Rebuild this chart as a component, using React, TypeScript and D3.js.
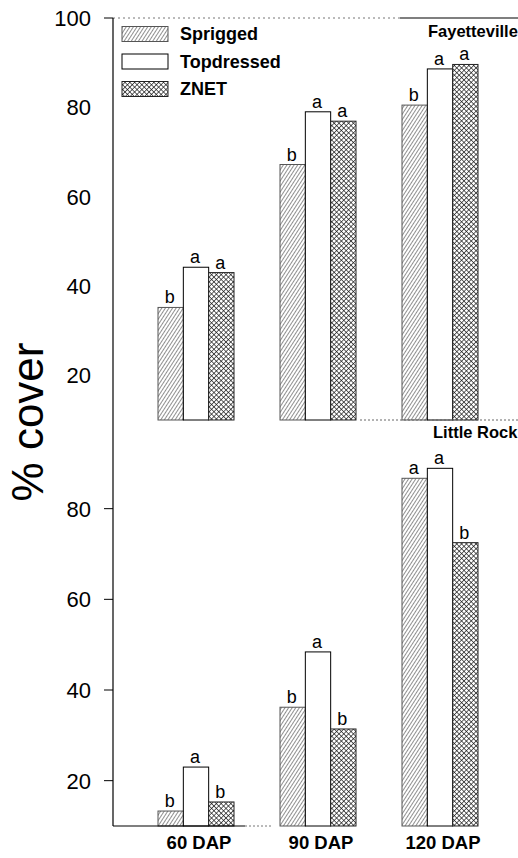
import React from "react";
import * as d3 from "d3";

const groups = ["60 DAP", "90 DAP", "120 DAP"];
const treatments = ["Sprigged", "Topdressed", "ZNET"];
const yTicks = [20, 40, 60, 80];

// Fayetteville (top panel)
const fayetteSprigged = [35.2, 67.2, 80.5];
const fayetteTopdressed = [44.2, 79.0, 88.6];
const fayetteZnet = [43.0, 76.9, 89.6];
const fayetteLetters = [
  ["b", "a", "a"],
  ["b", "a", "a"],
  ["b", "a", "a"],
];

// Little Rock (bottom panel)
const rockSprigged = [13.3, 36.2, 86.7];
const rockTopdressed = [23.0, 48.4, 88.9];
const rockZnet = [15.3, 31.4, 72.5];
const rockLetters = [
  ["b", "a", "b"],
  ["b", "a", "b"],
  ["a", "a", "b"],
];

const W = 518;
const H = 858;
const axisX = 113;
const font = "'Liberation Sans', Arial, Helvetica, sans-serif";

const fills: Record<string, string> = {
  Sprigged: "url(#hatch)",
  Topdressed: "#fff",
  ZNET: "url(#cross)",
};
const strokes: Record<string, string> = {
  Sprigged: "#555",
  Topdressed: "#000",
  ZNET: "#222",
};

type Panel = {
  name: string;
  sprigged: number[];
  topdressed: number[];
  znet: number[];
  letters: string[][];
  range: [number, number];
  showTop: boolean;
};

const panels: Panel[] = [
  { name: "Fayetteville", sprigged: fayetteSprigged, topdressed: fayetteTopdressed, znet: fayetteZnet, letters: fayetteLetters, range: [420, 18], showTop: true },
  { name: "Little Rock", sprigged: rockSprigged, topdressed: rockTopdressed, znet: rockZnet, letters: rockLetters, range: [826, 418], showTop: false },
];

const xGroup = d3.scalePoint<string>().domain(groups).range([196, 440]);
const xInner = d3.scaleBand<string>().domain(treatments).range([-38, 38]).padding(0);

export default function App() {
  return (
    <svg
      width={W}
      height={H}
      style={{ position: "absolute", left: 0, top: 0, display: "block", background: "#fff" }}
      fontFamily={font}
    >
      <defs>
        <pattern id="hatch" patternUnits="userSpaceOnUse" width="3" height="3" patternTransform="rotate(33)">
          <rect width="3" height="3" fill="#fff" />
          <line x1="0" y1="0" x2="0" y2="3" stroke="#222" strokeWidth="1" />
        </pattern>
        <pattern id="cross" patternUnits="userSpaceOnUse" width="3.4" height="3.4" patternTransform="rotate(45)">
          <rect width="3.4" height="3.4" fill="#fff" />
          <line x1="0" y1="0" x2="0" y2="3.4" stroke="#111" strokeWidth="1.3" />
          <line x1="0" y1="0" x2="3.4" y2="0" stroke="#111" strokeWidth="1.3" />
        </pattern>
      </defs>

      {panels.map((p, pi) => {
        const y = d3.scaleLinear().domain([10, 100]).range(p.range);
        const series: Record<string, number[]> = {
          Sprigged: p.sprigged,
          Topdressed: p.topdressed,
          ZNET: p.znet,
        };
        return (
          <g key={p.name}>
            {/* ticks */}
            {(p.showTop ? [...yTicks, 100] : yTicks).map((t) => (
              <g key={t} transform={`translate(0,${y(t)})`}>
                {(!p.showTop || t === 100) && (
                  <line x1={axisX - 9} x2={axisX} stroke="#000" strokeWidth={1} />
                )}
                <text x={91} dy="0.36em" textAnchor="end" fontSize={22}>
                  {t}
                </text>
              </g>
            ))}
            {/* bars */}
            {groups.map((g, gi) =>
              treatments.map((t, ti) => {
                const v = series[t][gi];
                const x0 = (xGroup(g) as number) + (xInner(t) as number);
                const bw = xInner.bandwidth();
                return (
                  <g key={g + t}>
                    <rect
                      x={x0}
                      y={y(v)}
                      width={bw}
                      height={y(10) - y(v)}
                      fill={fills[t]}
                      stroke={strokes[t]}
                      strokeWidth={1}
                    />
                    <text
                      x={x0 + bw / 2 - 1}
                      y={y(v) - 4}
                      textAnchor="middle"
                      fontSize={18}
                    >
                      {p.letters[gi][ti]}
                    </text>
                  </g>
                );
              })
            )}
            <text
              x={pi === 0 ? 428 : 433}
              y={pi === 0 ? 37 : 438}
              fontSize={16.5}
              fontWeight="bold"
            >
              {p.name}
            </text>
          </g>
        );
      })}

      {/* frame lines */}
      <line x1={axisX} x2={400} y1={18} y2={18} stroke="#777" strokeWidth={1} strokeDasharray="2,3" />
      <line x1={400} x2={518} y1={18} y2={18} stroke="#000" strokeWidth={1.2} />
      <line x1={360} x2={518} y1={420} y2={420} stroke="#666" strokeWidth={1} strokeDasharray="2,2" />
      <line x1={axisX} x2={axisX} y1={18} y2={826} stroke="#000" strokeWidth={1.2} />
      <line x1={axisX} x2={245} y1={826} y2={826} stroke="#000" strokeWidth={1.2} />
      <line x1={245} x2={272} y1={826} y2={826} stroke="#777" strokeWidth={1} strokeDasharray="2,2" />

      {/* x labels */}
      {groups.map((g) => (
        <text key={g} x={(xGroup(g) as number) + 3} y={849} textAnchor="middle" fontSize={18.5} fontWeight="bold">
          {g}
        </text>
      ))}

      {/* y title */}
      <text
        transform="translate(43,422) rotate(-90)"
        textAnchor="middle"
        fontSize={44}
      >
        % cover
      </text>

      {/* legend */}
      {treatments.map((t, i) => {
        const cy = 34 + i * 27.5;
        return (
          <g key={t}>
            <rect x={122} y={cy - 7.5} width={46} height={15} fill={fills[t]} stroke={strokes[t]} strokeWidth={1} />
            <text x={180} y={cy} dy="0.36em" fontSize={18} fontWeight="bold">
              {t}
            </text>
          </g>
        );
      })}
    </svg>
  );
}
